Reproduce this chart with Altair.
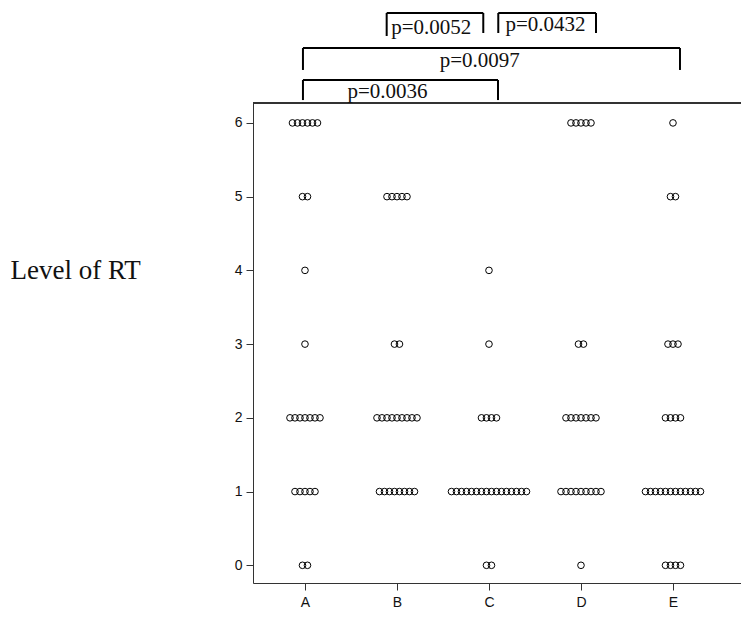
import altair as alt
import pandas as pd

# ---- data ----
groups = ["A", "B", "C", "D", "E"]
levels = [6, 5, 4, 3, 2, 1, 0]
# number of subjects at each level (levels order 6..0)
counts_A = [6, 2, 1, 1, 7, 5, 2]
counts_B = [0, 5, 0, 2, 9, 8, 0]
counts_C = [0, 0, 1, 1, 4, 16, 2]
counts_D = [5, 0, 0, 2, 7, 9, 1]
counts_E = [1, 2, 0, 3, 4, 12, 4]

# significance brackets (group positions and p-value labels)
br_left = [0.978, 0.978, 1.888, 3.101]
br_right = [3.098, 5.076, 2.938, 4.163]
br_top = [6.582, 7.016, 7.491, 7.491]
br_leg_left = [6.31, 6.718, 7.179, 7.219]
br_leg_right = [6.31, 6.718, 7.219, 7.219]
p_labels = ["p=0.0036", "p=0.0097", "p=0.0052", "p=0.0432"]
p_x = [1.897, 2.899, 2.372, 3.614]
p_y = [6.419, 6.84, 7.287, 7.328]

# ---- build tables ----
all_counts = [counts_A, counts_B, counts_C, counts_D, counts_E]
step = 5 / 92.0
rows = []
for gi, (g, cnts) in enumerate(zip(groups, all_counts), start=1):
    for lv, n in zip(levels, cnts):
        for i in range(n):
            rows.append({"group": g, "level": lv, "x": gi + (i - (n - 1) / 2) * step})
pts = pd.DataFrame(rows)

segs = []
for l, r, t, bl, brr in zip(br_left, br_right, br_top, br_leg_left, br_leg_right):
    segs.append({"x": l, "x2": r, "y": t, "y2": t})
    segs.append({"x": l, "x2": l, "y": t, "y2": bl})
    segs.append({"x": r, "x2": r, "y": t, "y2": brr})
segdf = pd.DataFrame(segs)
txt = pd.DataFrame({"label": p_labels, "x": p_x, "y": p_y})

W, H = 488, 480
xscale = alt.Scale(domain=[0.435, 0.435 + W / 92.0], nice=False, zero=False)
yscale = alt.Scale(domain=[-0.24, 6.27], nice=False, zero=False)

label_expr = "[" + ",".join("'%s'" % g for g in groups) + "][datum.value - 1]"

xaxis = alt.Axis(
    values=[1, 2, 3, 4, 5], labelExpr=label_expr, title=None, grid=False,
    tickSize=7, labelPadding=5, labelFontSize=14, labelFont="Liberation Sans",
    labelColor="#111", domainColor="#333", tickColor="#333")
yaxis = alt.Axis(
    values=levels, format="d", grid=False, tickSize=7, labelPadding=4,
    labelFontSize=14, labelFont="Liberation Sans", labelColor="#111",
    domainColor="#333", tickColor="#333",
    title="Level of RT", titleAngle=0, titleAlign="left", titleBaseline="middle",
    titleX=-243, titleY=167, titleFont="Liberation Serif", titleFontSize=27,
    titleFontWeight="normal", titleColor="#111")

points = alt.Chart(pts).mark_point(
    shape="circle", filled=False, color="black", size=44, strokeWidth=1, opacity=1
).encode(
    x=alt.X("x:Q", scale=xscale, axis=xaxis),
    y=alt.Y("level:Q", scale=yscale, axis=yaxis),
)

top_border = alt.Chart(pts).mark_rule(color="#333", strokeWidth=1).encode(
    x=alt.value(0), x2=alt.value(W), y=alt.value(0)
)

brackets = alt.Chart(segdf).mark_rule(color="black", strokeWidth=2, clip=False).encode(
    x=alt.X("x:Q", scale=xscale, axis=xaxis), x2="x2:Q",
    y=alt.Y("y:Q", scale=yscale, axis=yaxis), y2="y2:Q",
)

ptext = alt.Chart(txt).mark_text(
    font="Liberation Serif", fontSize=21, align="center", baseline="middle",
    color="#111", clip=False
).encode(
    x=alt.X("x:Q", scale=xscale, axis=xaxis),
    y=alt.Y("y:Q", scale=yscale, axis=yaxis),
    text="label:N",
)

chart = alt.layer(points, top_border, brackets, ptext).properties(
    width=W, height=H,
    padding={"left": 245, "top": 95, "right": 0, "bottom": 26},
    autosize=alt.AutoSizeParams(type="none"),
).configure_view(stroke=None).configure(background="white")

chart.save("out.html", embed_options={"renderer": "svg", "actions": False})
